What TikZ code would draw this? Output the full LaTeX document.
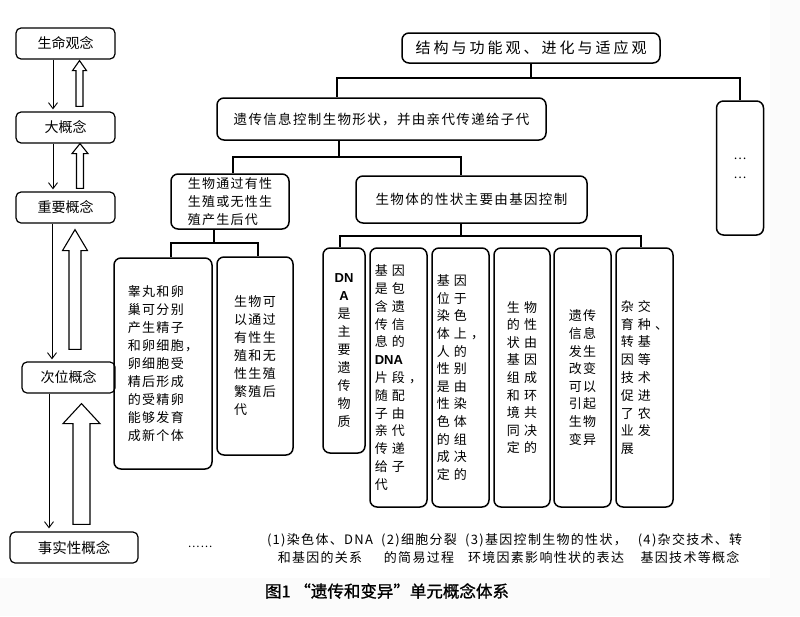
\documentclass[tikz,border=0pt]{standalone}
\usepackage{fontspec}
\usetikzlibrary{arrows.meta,calc}
\newfontfamily\cjk{Noto Sans CJK SC}
\newfontfamily\kai{Noto Sans CJK SC}[LetterSpace=10]
\newfontfamily\kaiw{Noto Sans CJK SC}[LetterSpace=32]
\newfontfamily\kail{Noto Sans CJK SC}[LetterSpace=20]
\newfontfamily\titre{Noto Sans CJK SC}[FakeBold=1]
\newfontfamily\latb{Liberation Sans}
% grosse fleche creuse : pied, pointe, demi-tige, demi-tete, longueur de tete
\newcommand\grossefleche[5]{%
  \draw[creuse] let \p1=#1, \p2=#2 in
    (\x1-#3pt,\y1) -- (\x1-#3pt,\y2-#5pt) -- (\x1-#4pt,\y2-#5pt) -- (\x1,\y2)
    -- (\x1+#4pt,\y2-#5pt) -- (\x1+#3pt,\y2-#5pt) -- (\x1+#3pt,\y1) -- cycle;}
\begin{document}
\begin{tikzpicture}[x=1pt,y=-1pt]
	% Styles des boites et des liens
	\tikzset{
		concept/.style={draw, line width=1.2pt, rounded corners=5pt, inner sep=0pt,
			minimum height=31pt, font=\cjk\fontsize{14}{16}\selectfont},
		boite/.style={draw, line width=1.5pt, rounded corners=7pt, inner sep=0pt, align=center},
		lien/.style={line width=1.5pt},
		descente/.style={line width=0.9pt, -{Straight Barb[length=6pt,width=9pt]}},
		creuse/.style={line width=1.1pt, fill=white, line join=miter}
	}
	\fill[black!1.5] (0,0) rectangle (800,616);
	\fill[white] (0,0) rectangle (770,578);
	\useasboundingbox (0,0) rectangle (800,616);
	% colonne de gauche
	\node[concept, minimum width=99pt] (vie) at (65.5,43.5) {生命观念};
	\node[concept, minimum width=99pt] (grand) at (65.5,127.5) {大概念};
	\node[concept, minimum width=99pt] (important) at (65.5,207.5) {重要概念};
	\node[concept, minimum width=93pt] (second) at (68.5,377.5) {次位概念};
	\node[concept, minimum width=128pt, font=\cjk\fontsize{14.5}{16}\selectfont] (fait) at (74,547.5) {事实性概念};
	\draw[descente] ([xshift=-12.5pt]vie.south) -- ([xshift=-12.5pt,yshift=2pt]grand.north);
	\draw[descente] ([xshift=-12.5pt]grand.south) -- ([xshift=-12.5pt,yshift=2pt]important.north);
	\draw[descente] ([xshift=-13.5pt]important.south) -- ([xshift=-16.5pt,yshift=2pt]second.north);
	\draw[descente] ([xshift=-19.5pt]second.south) -- ([xshift=-25pt,yshift=3pt]fait.north);
	\grossefleche{([xshift=14pt,yshift=5pt]grand.north)}{([xshift=14pt,yshift=-1pt]vie.south)}{3.5}{7}{10}
	\grossefleche{([xshift=14.5pt,yshift=3pt]important.north)}{([xshift=14.5pt]grand.south)}{3.5}{8}{10}
	\grossefleche{([xshift=6.5pt,yshift=12pt]second.north)}{([xshift=9.5pt,yshift=-6pt]important.south)}{6}{12.5}{21}
	\grossefleche{([xshift=7.5pt,yshift=7pt]fait.north)}{([xshift=13pt,yshift=-10pt]second.south)}{8.5}{18.5}{20}
	% arbre
	\node[boite, minimum width=258pt, minimum height=30pt, font=\kail\fontsize{15}{18}\selectfont] (racine) at (531,48) {结构与功能观、进化与适应观};
	\node[boite, minimum width=329pt, minimum height=42pt, font=\kai\fontsize{13.5}{18}\selectfont] (info) at (381.5,119) {遗传信息控制生物形状，并由亲代传递给子代};
	\node[boite, minimum width=47pt, minimum height=134pt, font=\cjk\fontsize{12}{19}\selectfont] (autres) at (740,168) {…\\…};
	\node[boite, minimum width=118pt, minimum height=55pt, align=left, font=\kai\fontsize{13}{18}\selectfont] (repro) at (230,201.5) {生物通过有性\\生殖或无性生\\殖产生后代};
	\node[boite, minimum width=231pt, minimum height=47pt, font=\kai\fontsize{13.5}{18}\selectfont] (gene) at (471.5,199.5) {生物体的性状主要由基因控制};
	\node[boite, minimum width=98pt, minimum height=211pt, align=left, font=\kai\fontsize{13}{18}\selectfont] (testis) at (163,363.5) {睾丸和卵\\巢可分别\\产生精子\\和卵细胞，\\卵细胞受\\精后形成\\的受精卵\\能够发育\\成新个体};
	\node[boite, minimum width=76pt, minimum height=198pt, align=left, font=\kai\fontsize{13}{18}\selectfont] (asex) at (255,356) {生物可\\以通过\\有性生\\殖和无\\性生殖\\繁殖后\\代};
	\node[boite, minimum width=42pt, minimum height=205pt, font=\kai\fontsize{13}{18}\selectfont] (dna) at (344,350.5) {{\latb\bfseries DN}\\{\latb\bfseries A}\\是\\主\\要\\遗\\传\\物\\质};
	\node[boite, minimum width=57pt, minimum height=259pt, align=left, font=\kaiw\fontsize{13}{17.8}\selectfont] (b2) at (398.5,377.5) {基因\\是包\\含遗\\传信\\息的\\{\latb\bfseries DNA}\\片段，\\随配\\子由\\亲代\\传递\\给子\\代};
	\node[boite, minimum width=57pt, minimum height=259pt, align=left, font=\kaiw\fontsize{13}{17.6}\selectfont] (b3) at (460.5,377.5) {基因\\位于\\染色\\体上，\\人的\\性别\\是由\\性染\\色体\\的组\\成决\\定的};
	\node[boite, minimum width=56pt, minimum height=259pt, align=left, font=\kaiw\fontsize{13}{17.6}\selectfont] (b4) at (522,377.5) {生物\\的性\\状由\\基因\\组成\\和环\\境共\\同决\\定的};
	\node[boite, minimum width=57pt, minimum height=259pt, align=left, font=\kai\fontsize{13}{17.6}\selectfont] (b5) at (582.5,377.5) {遗传\\信息\\发生\\改变\\可以\\引起\\生物\\变异};
	\node[boite, minimum width=57pt, minimum height=259pt, align=left, font=\kaiw\fontsize{13}{17.8}\selectfont] (b6) at (644.5,377.5) {杂交\\育种、\\转基\\因等\\技术\\促进\\了农\\业发\\展};
	\draw[lien] (racine.south) -- ++(0,14) -| ([xshift=-44.5pt]info.north);
	\draw[lien] (racine.south) ++(0,14) -| (autres.north);
	\draw[lien] ([xshift=-42.5pt]info.south) -- ++(0,16) -| ([xshift=3pt]repro.north);
	\draw[lien] ([xshift=-42.5pt]info.south) ++(0,16) -| ([xshift=-10.5pt]gene.north);
	\draw[lien] ([xshift=-16pt]repro.south) -- ++(0,13) -| ([xshift=8pt]testis.north);
	\draw[lien] ([xshift=-16pt]repro.south) ++(0,13) -| ([xshift=3pt]asex.north);
	\draw[lien] ([xshift=-10.5pt]gene.south) -- ++(0,12) -| ([xshift=-4pt]dna.north);
	\draw[lien] ([xshift=-10.5pt]gene.south) ++(0,12) -| ([xshift=-3.5pt]b6.north);
	% faits en bas
	\node[font=\kai\fontsize{11}{14}\selectfont] (etc) at (200,547) {……};
	\node[align=center, font=\kai\fontsize{13}{18}\selectfont] (fait1) at (320,549) {(1)染色体、DNA\\和基因的关系};
	\node[align=center, font=\kai\fontsize{13}{18}\selectfont] (fait2) at (419,549) {(2)细胞分裂\\的简易过程};
	\node[align=center, font=\kai\fontsize{13}{18}\selectfont] (fait3) at (546,549) {(3)基因控制生物的性状，\\环境因素影响性状的表达};
	\node[align=center, font=\kai\fontsize{13}{18}\selectfont] (fait4) at (690,549) {(4)杂交技术、转\\基因技术等概念};
	\node[font=\titre\fontsize{16.5}{18}\selectfont] (legende) at (387,591) {图1 “遗传和变异”单元概念体系};
\end{tikzpicture}
\end{document}
